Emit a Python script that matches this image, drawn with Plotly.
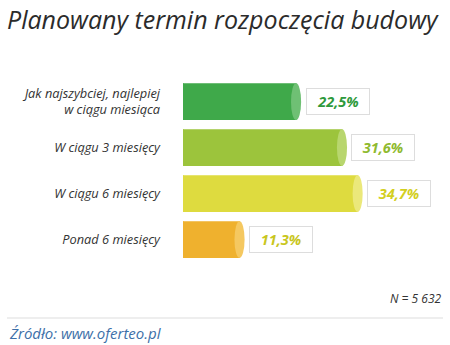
import plotly.graph_objects as go

categories = ["Jak najszybciej, najlepiej<br>w ciągu miesiąca", "W ciągu 3 miesięcy", "W ciągu 6 miesięcy", "Ponad 6 miesięcy"]
values = [22.5, 31.6, 34.7, 11.3]
value_labels = ["22,5%", "31,6%", "34,7%", "11,3%"]
bar_colors = ["#3fa94a", "#9cc43c", "#dedb3f", "#efb12e"]
cap_colors = ["#6fc074", "#b8d66e", "#ebe87a", "#f5c860"]
label_colors = ["#2e9a3c", "#8fba2f", "#d3cf1f", "#c9c61e"]

FONT = "Open Sans"

fig = go.Figure()
fig.add_trace(go.Bar(
    x=values, y=list(range(len(categories))), orientation="h",
    marker=dict(color=bar_colors, line=dict(width=0)),
    width=0.8, hoverinfo="skip",
))

shapes = []
annotations = []
for i, (v, c, cc, lc, t) in enumerate(zip(values, bar_colors, cap_colors, label_colors, value_labels)):
    # rounded left end of the cylinder
    shapes.append(dict(type="circle", xref="x", yref="y", x0=-0.7, x1=0.7,
                       y0=i - 0.4, y1=i + 0.4, fillcolor=c, line=dict(width=0), layer="below"))
    # cylinder end cap
    shapes.append(dict(type="circle", xref="x", yref="y", x0=v - 1.1, x1=v + 0.9,
                       y0=i - 0.4, y1=i + 0.4, fillcolor=cc, line=dict(width=0), layer="above"))
    annotations.append(dict(x=v, y=i, xref="x", yref="y", xanchor="left", yanchor="middle",
                            xshift=9, showarrow=False, text="<b><i>%s</i></b>" % t,
                            font=dict(family=FONT, size=14.5, color=lc),
                            bgcolor="white", bordercolor="#dddddd", borderwidth=1,
                            width=56, height=19, borderpad=3, align="center"))

annotations.append(dict(x=443 / 450, y=1 - 298 / 345, xref="paper", yref="paper", xanchor="right",
                        yanchor="middle", showarrow=False, text="<i>N = 5 632</i>",
                        font=dict(family=FONT, size=12, color="#333333")))
annotations.append(dict(x=7 / 450, y=1 - 333 / 345, xref="paper", yref="paper", xanchor="left",
                        yanchor="middle", showarrow=False, text="<i>Źródło: www.oferteo.pl</i>",
                        font=dict(family=FONT, size=15, color="#3d6fa8")))
shapes.append(dict(type="line", xref="paper", yref="paper", x0=7 / 450, x1=443 / 450,
                   y0=1 - 318 / 345, y1=1 - 318 / 345, line=dict(color="#dddddd", width=1)))

fig.update_layout(
    width=450, height=345,
    margin=dict(l=0, r=0, t=0, b=0),
    paper_bgcolor="white", plot_bgcolor="rgba(0,0,0,0)",
    title=dict(text="<i>Planowany termin rozpoczęcia budowy</i>", x=7 / 450, xanchor="left",
               y=1 - 20 / 345, yanchor="middle",
               font=dict(family=FONT, size=25, color="#2b2b2b")),
    xaxis=dict(domain=[183 / 450, 1], range=[0, 52.9], visible=False),
    yaxis=dict(domain=[0.239, 0.772], range=[3.5, -0.5], showgrid=False, zeroline=False,
               showline=False, ticks="", ticklabelstandoff=22,
               tickvals=list(range(len(categories))),
               ticktext=["<i>%s</i>" % c for c in categories],
               tickfont=dict(family=FONT, size=12.8, color="#333333")),
    showlegend=False,
    shapes=shapes, annotations=annotations,
)

fig.write_html("out.html")
